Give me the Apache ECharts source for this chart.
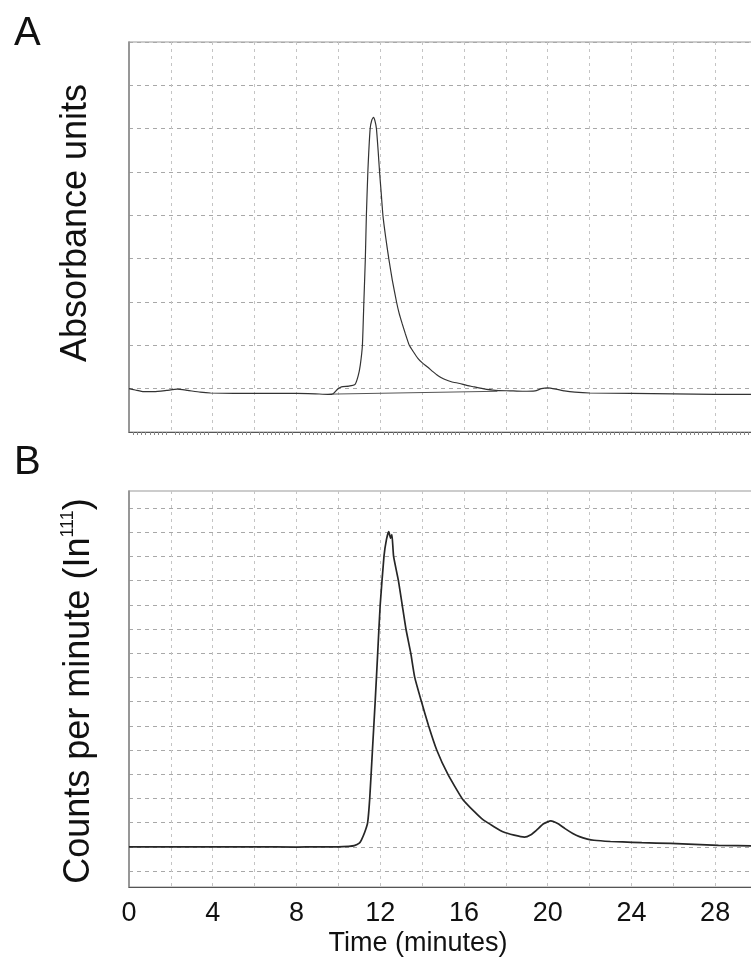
<!DOCTYPE html>
<html>
<head>
<meta charset="utf-8">
<script src="https://cdn.jsdelivr.net/npm/echarts@6/dist/echarts.min.js"></script>
<style>
html,body{margin:0;padding:0;background:#fff;}
#chart{width:751px;height:960px;}
</style>
</head>
<body>
<div id="chart"></div>
<script>
// ---- Panel A: absorbance trace (time in minutes, absorbance in grid units)
const timeA = [0,0.3,0.7,1.2,1.8,2.3,2.8,3.4,3.9,5,6.5,8,8.9,9.5,9.75,9.95,10.15,10.5,10.8,10.95,11.05,11.15,11.22,11.29,11.34,11.41,11.52,11.6,11.68,11.75,11.82,11.9,11.97,12.05,12.13,12.26,12.41,12.58,12.78,12.9,13.05,13.2,13.39,13.6,13.8,14.0,14.26,14.5,14.7,14.9,15.1,15.4,15.8,16.1,16.4,16.9,17.5,18.2,18.8,19.4,19.7,20.0,20.4,20.8,21.3,22,24,26,28,30];
const absA  = [1.0,0.97,0.93,0.93,0.96,0.99,0.96,0.92,0.9,0.89,0.89,0.89,0.88,0.87,0.88,0.98,1.04,1.06,1.1,1.3,1.55,2.0,3.0,4.0,5.0,6.0,7.0,7.2,7.26,7.18,7.0,6.5,6.0,5.5,5.0,4.5,4.0,3.5,3.0,2.75,2.5,2.27,2.0,1.84,1.7,1.6,1.5,1.4,1.32,1.26,1.21,1.16,1.12,1.08,1.05,1.0,0.96,0.95,0.94,0.95,1.0,1.02,0.99,0.95,0.92,0.9,0.89,0.88,0.87,0.87];
// integration baseline drawn under the peak
const baseTimeA = [9.72, 17.6];
const baseAbsA  = [0.875, 0.94];

// ---- Panel B: radioactivity trace (counts per minute, grid units)
const timeB = [0,2,4,6,8,9,10,10.5,10.76,11.0,11.1,11.26,11.4,11.5,11.63,11.76,11.88,12.0,12.18,12.3,12.41,12.5,12.56,12.64,12.87,13.05,13.23,13.46,13.65,13.97,14.31,14.7,15.23,15.91,16.5,16.94,17.4,17.86,18.4,18.89,19.2,19.46,19.8,20.15,20.5,20.83,21.2,21.52,21.9,22.21,23.0,23.58,24.5,25.87,27,28.16,30];
const cpmB  = [1.0,1.0,1.0,1.0,0.99,1.0,1.0,1.02,1.05,1.15,1.28,1.6,2.0,3.0,5.0,7.0,9.0,11.0,13.0,13.7,14.02,13.75,13.9,13.0,12.0,11.0,10.0,9.0,8.0,7.0,6.0,5.0,4.0,3.0,2.45,2.1,1.85,1.62,1.48,1.4,1.5,1.68,1.95,2.07,1.95,1.75,1.55,1.42,1.32,1.27,1.22,1.2,1.17,1.14,1.1,1.06,1.03];

// ---- Axis ticks / labels
const xTickLabels = [0,4,8,12,16,20,24,28];
const xMin = 0, xMax = 30, xStep = 2;
const yMaxA = 9;
const yMaxB = 15;

const pairs = (xs, ys) => xs.map((x, i) => [x, ys[i]]);
const FONT = "'Liberation Sans', Arial, Helvetica, sans-serif";

const vSplit = {show: true, lineStyle: {color: '#c4c4c4', type: [3, 4], width: 1}};
const hSplit = {show: true, lineStyle: {color: '#a8a8a8', type: [4, 4], width: 1}};

const chart = echarts.init(document.getElementById('chart'), null, {renderer: 'canvas'});

const option = {
  animation: false,
  backgroundColor: '#ffffff',
  grid: [
    {left: 129, top: 42, right: -6, height: 390, show: true, borderColor: '#999', borderWidth: 1.2, outerBoundsMode: 'none'},
    {left: 129, top: 491, right: -6, height: 396, show: true, borderColor: '#999', borderWidth: 1.2, outerBoundsMode: 'none'},
    {left: 129, top: 508, right: -6, height: 363, show: false, outerBoundsMode: 'none'}
  ],
  xAxis: [
    {gridIndex: 0, type: 'value', min: xMin, max: xMax, interval: xStep,
      axisLine: {show: true, lineStyle: {color: '#555', width: 1.2}},
      axisTick: {show: false}, minorTick: {show: true, splitNumber: 10, length: 3, lineStyle: {color: '#888'}},
      axisLabel: {show: false}, splitLine: vSplit},
    {gridIndex: 1, type: 'value', min: xMin, max: xMax, interval: xStep,
      axisLine: {show: true, lineStyle: {color: '#555', width: 1.2}},
      axisTick: {show: false},
      axisLabel: {show: true, fontSize: 27, fontFamily: FONT, color: '#111', margin: 13,
        formatter: v => (xTickLabels.indexOf(v) >= 0 ? String(v) : '')},
      splitLine: vSplit},
    {gridIndex: 2, type: 'value', min: xMin, max: xMax, show: false}
  ],
  yAxis: [
    {gridIndex: 0, type: 'value', min: 0, max: yMaxA, interval: 1,
      axisLine: {show: true, lineStyle: {color: '#888', width: 1.5}},
      axisTick: {show: false}, axisLabel: {show: false}, splitLine: hSplit},
    {gridIndex: 1, type: 'value', min: 0, max: 1,
      axisLine: {show: true, lineStyle: {color: '#888', width: 1.5}},
      axisTick: {show: false}, axisLabel: {show: false}, splitLine: {show: false}},
    {gridIndex: 2, type: 'value', min: 0, max: yMaxB, interval: 1,
      axisLine: {show: false}, axisTick: {show: false}, axisLabel: {show: false}, splitLine: hSplit}
  ],
  series: [
    {type: 'line', xAxisIndex: 0, yAxisIndex: 0, data: pairs(timeA, absA), showSymbol: false,
      smooth: 0.15, lineStyle: {color: '#333', width: 1.2}},
    {type: 'line', xAxisIndex: 0, yAxisIndex: 0, data: pairs(baseTimeA, baseAbsA), showSymbol: false,
      lineStyle: {color: '#555', width: 1}},
    {type: 'line', xAxisIndex: 2, yAxisIndex: 2, data: pairs(timeB, cpmB), showSymbol: false,
      smooth: 0.15, lineStyle: {color: '#262626', width: 1.7}}
  ],
  graphic: [
    {type: 'text', x: 14, y: 34, style: {text: 'A', font: '40px ' + FONT, fill: '#111', align: 'left', verticalAlign: 'middle'}},
    {type: 'text', x: 14, y: 463, style: {text: 'B', font: '40px ' + FONT, fill: '#111', align: 'left', verticalAlign: 'middle'}},
    {type: 'text', x: 76, y: 223, rotation: Math.PI / 2,
      style: {text: 'Absorbance units', font: '36px ' + FONT, fill: '#111', align: 'center', verticalAlign: 'middle'}},
    {type: 'text', x: 76, y: 691, rotation: Math.PI / 2,
      style: {text: '{n|Counts per minute (In}{s|111}{n|)}', fill: '#111', align: 'center', verticalAlign: 'middle',
        rich: {
          n: {fontSize: 36, fontFamily: FONT, fill: '#111', lineHeight: 42, verticalAlign: 'bottom'},
          s: {fontSize: 18, fontFamily: FONT, fill: '#111', lineHeight: 42, verticalAlign: 'top', padding: [4, 0, 0, 0]}
        }}},
    {type: 'text', x: 418, y: 944,
      style: {text: 'Time (minutes)', font: '27px ' + FONT, fill: '#111', align: 'center', verticalAlign: 'middle'}}
  ]
};
chart.setOption(option);
</script>
</body>
</html>
